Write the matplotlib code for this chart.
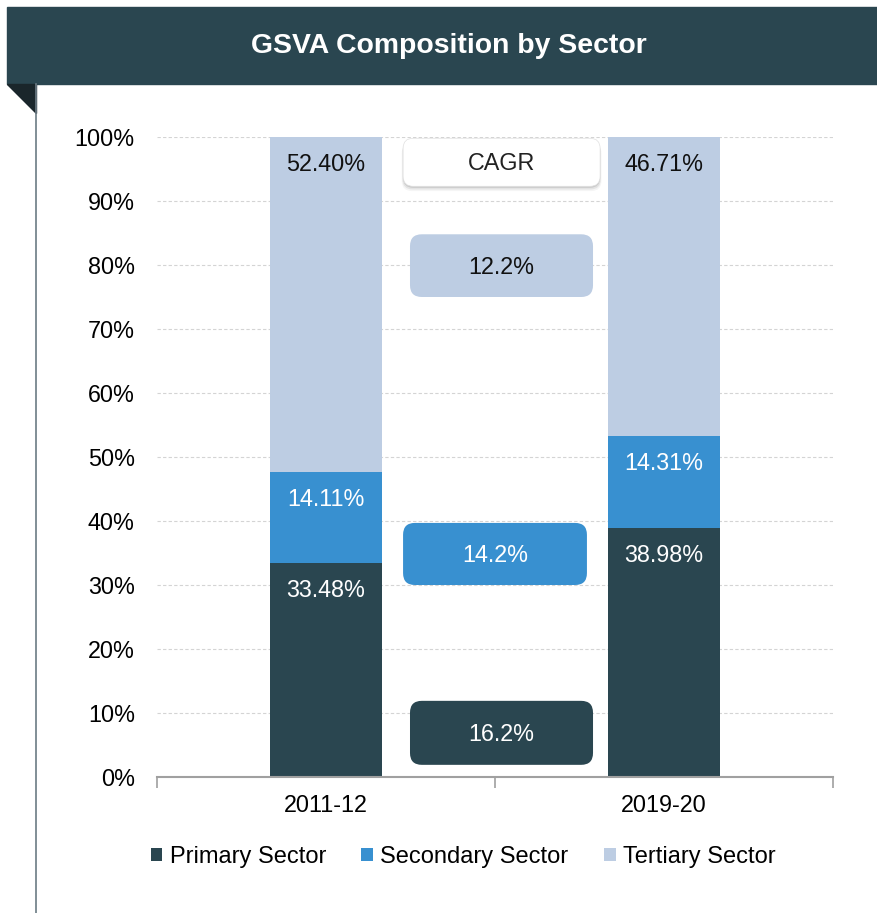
import matplotlib.pyplot as plt
from matplotlib.patches import FancyBboxPatch, Rectangle, Polygon
from matplotlib.lines import Line2D

plt.rcParams['font.family'] = ['Liberation Sans', 'DejaVu Sans']

years = ['2011-12', '2019-20']
sectors = ['Primary Sector', 'Secondary Sector', 'Tertiary Sector']
primary = [33.48, 38.98]
secondary = [14.11, 14.31]
tertiary = [52.40, 46.71]
cagr = [16.2, 14.2, 12.2]

colors = ['#2a4650', '#3890d0', '#bdcde3']
text_colors = ['white', 'white', '#111111']

fig = plt.figure(figsize=(8.77, 9.13), dpi=100)

# banner and folded corner
fig.patches.append(Rectangle((7 / 877, 1 - 84 / 913), 870 / 877, 77 / 913,
                             transform=fig.transFigure, color='#2a4650', zorder=0))
fig.patches.append(Polygon([(7 / 877, 1 - 84 / 913), (36 / 877, 1 - 84 / 913),
                            (36 / 877, 1 - 113 / 913)], closed=True,
                           transform=fig.transFigure, color='#1a262b', zorder=0))
fig.lines.append(Line2D([36 / 877, 36 / 877], [0, 1 - 84 / 913],
                        transform=fig.transFigure, color='#6b7b84', lw=1.2))
fig.text(449 / 877, 1 - 46 / 913, 'GSVA Composition by Sector', color='white',
         fontsize=20.4, fontweight='bold', ha='center', va='center')

ax = fig.add_axes([157 / 877, 136 / 913, 676 / 877, 640 / 913])
x = [0, 1]
w = 0.33
series = [primary, secondary, tertiary]
bottom = [0, 0]
for i, vals in enumerate(series):
    ax.bar(x, vals, w, bottom=bottom, color=colors[i], label=sectors[i], zorder=2)
    for j in range(2):
        top = bottom[j] + vals[j]
        ax.text(x[j], top - 4.3, '%.2f%%' % vals[j], ha='center', va='center',
                fontsize=16.8, color=text_colors[i], zorder=3)
    bottom = [bottom[j] + vals[j] for j in range(2)]

ax.set_xlim(-0.5, 1.5)
ax.set_ylim(0, 100)
ax.set_yticks(range(0, 101, 10))
ax.set_yticklabels(['%d%%' % v for v in range(0, 101, 10)])
ax.set_xticks([-0.5, 0.5, 1.5])
ax.set_xticklabels([])
ax.set_xticks(x, minor=True)
ax.set_xticklabels(years, minor=True)
ax.tick_params(axis='x', which='major', length=8, color='#a0a0a0', width=1.2)
ax.tick_params(axis='x', which='minor', length=0, pad=12, labelsize=16.8)
ax.tick_params(axis='y', length=0, pad=16, labelsize=16.8)
ax.yaxis.grid(True, linestyle=(0, (3, 2)), color='#d4d4d4', lw=0.8, zorder=0)
for s in ['top', 'right', 'left']:
    ax.spines[s].set_visible(False)
ax.spines['bottom'].set_color('#a0a0a0')
ax.spines['bottom'].set_linewidth(1.5)

# CAGR boxes
asp = (676 / 2) / (640 / 100)
boxes = [
    (0.2485, 1.9, 0.5415, 10.0, colors[0], 'white', '%.1f%%' % cagr[0]),
    (0.228, 30.0, 0.544, 9.7, colors[1], 'white', '%.1f%%' % cagr[1]),
    (0.2485, 75.0, 0.5415, 9.8, colors[2], '#111111', '%.1f%%' % cagr[2]),
]
# shadow + CAGR header
for k, a in enumerate([0.10, 0.07, 0.04]):
    off = 0.25 + k * 0.25
    ax.add_patch(FancyBboxPatch((0.228 - 0.002 * k, 92.3 - off), 0.583 + 0.004 * k, 7.5,
                                boxstyle='round,pad=0,rounding_size=0.03',
                                mutation_aspect=asp, fc='#000000', ec='none',
                                alpha=a, zorder=3))
ax.add_patch(FancyBboxPatch((0.228, 92.3), 0.583, 7.5,
                            boxstyle='round,pad=0,rounding_size=0.03',
                            mutation_aspect=asp, fc='white', ec='#e0e0e0',
                            lw=0.5, zorder=4))
ax.text(0.52, 95.8, 'CAGR', ha='center', va='center', fontsize=16.8,
        color='#222222', zorder=5)
for bx, by, bw, bh, fc, tc, lab in boxes:
    ax.add_patch(FancyBboxPatch((bx, by), bw, bh,
                                boxstyle='round,pad=0,rounding_size=0.035',
                                mutation_aspect=asp, fc=fc, ec='none', zorder=4))
    ax.text(bx + bw / 2, by + bh / 2 - 0.3, lab, ha='center', va='center',
            fontsize=16.8, color=tc, zorder=5)

fig.legend(loc='center', bbox_to_anchor=(463 / 877, 1 - 857 / 913), ncol=3,
           frameon=False, fontsize=17, handlelength=0.5, handleheight=0.5,
           handletextpad=0.3, columnspacing=1.5)

fig.savefig('out.png', dpi=100)
